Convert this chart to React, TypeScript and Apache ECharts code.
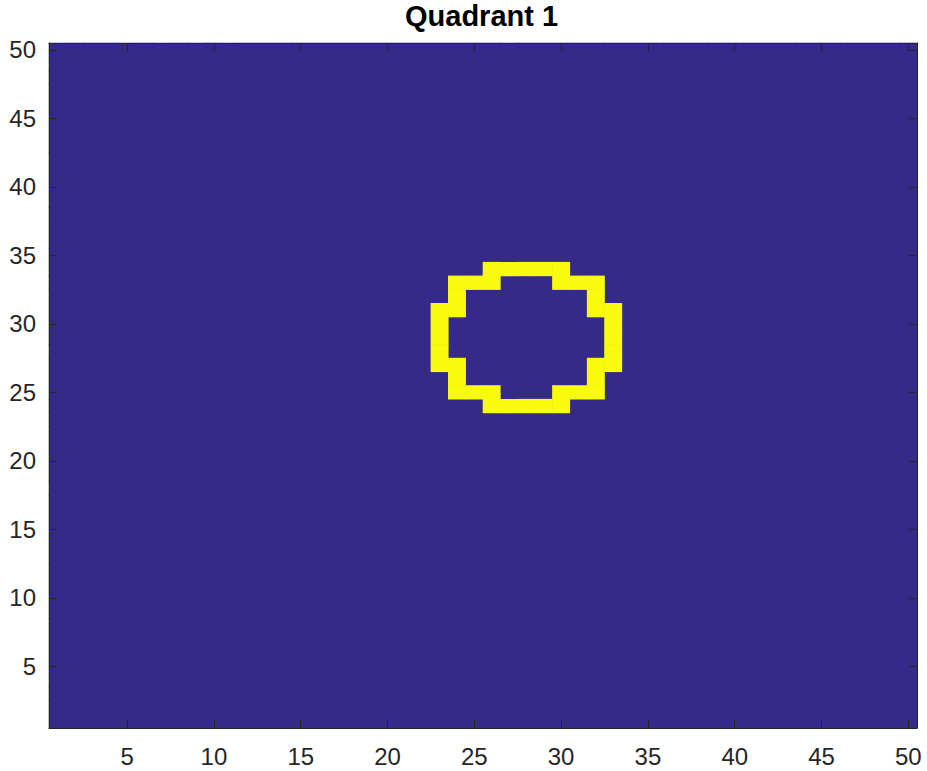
import React, { useEffect, useRef } from "react";
import * as echarts from "echarts";

// Grid size (image is 50 x 50 cells)
const gridSize = 50;
const categories: string[] = Array.from({ length: gridSize }, (_, i) => String(i + 1));
const tickValues = [5, 10, 15, 20, 25, 30, 35, 40, 45, 50];

// Ring cells with value 1 (row -> columns); everything else is 0
const ringRows = [24, 25, 26, 27, 28, 29, 30, 31, 32, 33, 34];
const ringCols: number[][] = [
  [26, 27, 28, 29, 30],
  [24, 25, 26, 30, 31, 32],
  [24, 32],
  [23, 24, 32, 33],
  [23, 33],
  [23, 33],
  [23, 33],
  [23, 24, 32, 33],
  [24, 32],
  [24, 25, 26, 30, 31, 32],
  [26, 27, 28, 29, 30],
];

const titleText = "Quadrant 1";
const lowColor = "#352A87";
const highColor = "#F9FB0E";
const axisColor = "#262626";

export default function App() {
  const ref = useRef<HTMLDivElement>(null);

  useEffect(() => {
    if (!ref.current) return;
    const chart = echarts.init(ref.current, undefined, { renderer: "svg" });

    const ones = new Set<string>();
    ringRows.forEach((r, i) => ringCols[i].forEach((c) => ones.add(`${c},${r}`)));
    const cellData: number[][] = [];
    for (let y = 1; y <= gridSize; y++) {
      for (let x = 1; x <= gridSize; x++) {
        cellData.push([x - 1, y - 1, ones.has(`${x},${y}`) ? 1 : 0]);
      }
    }

    const isTick = (idx: number) => tickValues.includes(idx + 1);
    const baseAxis = (position: string, showLabel: boolean, isX: boolean) => ({
      type: "category",
      data: categories,
      position,
      boundaryGap: true,
      axisLine: { show: true, onZero: false, lineStyle: { color: axisColor, width: 1 } },
      axisTick: {
        show: true,
        inside: true,
        length: 8,
        alignWithLabel: true,
        interval: (idx: number) => isTick(idx),
        lineStyle: { color: axisColor, width: 1 },
      },
      axisLabel: {
        show: showLabel,
        interval: (idx: number) => isTick(idx),
        color: axisColor,
        fontFamily: "Liberation Sans, Arial, sans-serif",
        fontSize: 24,
        margin: isX ? 16 : 13,
      },
      splitLine: { show: false },
      z: 10,
    });

    chart.setOption({
      animation: false,
      backgroundColor: "#ffffff",
      title: {
        text: titleText,
        left: 405,
        top: 1,
        padding: 0,
        textStyle: {
          fontFamily: "Liberation Sans, Arial, sans-serif",
          fontSize: 29,
          fontWeight: "bold",
          color: "#000000",
        },
      },
      grid: {
        left: 49,
        top: 43,
        width: 868,
        height: 685,
        show: true,
        backgroundColor: lowColor,
        borderWidth: 0,
      },
      xAxis: [baseAxis("bottom", true, true), baseAxis("top", false, true)],
      yAxis: [baseAxis("left", true, false), baseAxis("right", false, false)],
      series: [
        {
          type: "custom",
          xAxisIndex: 0,
          yAxisIndex: 0,
          silent: true,
          data: cellData,
          renderItem: (params: any, api: any) => {
            const c = api.coord([api.value(0), api.value(1)]);
            const s = api.size([1, 1]);
            const v = api.value(2);
            return {
              type: "rect",
              shape: { x: c[0] - s[0] / 2 - 0.3, y: c[1] - s[1] / 2 - 0.3, width: s[0] + 0.6, height: s[1] + 0.6 },
              style: { fill: v > 0.5 ? highColor : lowColor },
              z2: v > 0.5 ? 2 : 1,
            };
          },
        },
      ],
    });

    return () => chart.dispose();
  }, []);

  return (
    <div
      ref={ref}
      style={{ position: "fixed", left: 0, top: 0, width: 927, height: 771, background: "#fff" }}
    />
  );
}
